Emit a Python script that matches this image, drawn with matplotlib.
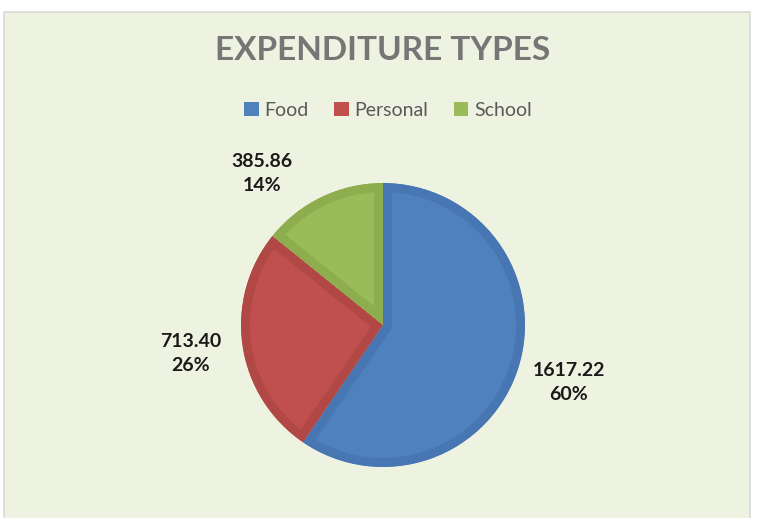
import numpy as np
import matplotlib
matplotlib.use('Agg')
import matplotlib.pyplot as plt
from matplotlib.patches import Patch, Rectangle, Wedge

categories = ['Food', 'Personal', 'School']
amounts = [1617.22, 713.40, 385.86]
face_colors = ['#4F81BD', '#C0504D', '#9BBB59']
edge_colors = ['#4776B3', '#B14845', '#8DAD4F']

W, H = 764, 518
bg = '#EEF2E0'
cx, cy, r = 383, H - 325, 142
border_px = 9
label_dist = 1.37
# Excel "best fit" moved the School label away from the legend
label_nudge = [(0, 0), (0, 0), (-37, -24)]

fig = plt.figure(figsize=(W / 100, H / 100), dpi=100, facecolor='white')
ax = fig.add_axes([0, 0, 1, 1])

total = sum(amounts)
labels = [f'{v:.2f}\n{v / total * 100:.0f}%' for v in amounts]

wedges, _ = ax.pie(amounts, colors=face_colors, startangle=90, counterclock=False,
                   center=(cx, cy), radius=r)

# Excel-style inner border: thick darker stroke clipped to a copy of the wedge
for w, ec, lab, (nx, ny) in zip(wedges, edge_colors, labels, label_nudge):
    clip = Wedge(w.center, w.r, w.theta1, w.theta2, transform=ax.transData)
    w.set_edgecolor(ec)
    w.set_linewidth(2 * border_px * 72 / 100)
    w.set_joinstyle('miter')
    w.set_clip_path(clip)
    w.set_clip_on(True)
    mid = np.deg2rad((w.theta1 + w.theta2) / 2)
    tx = cx + label_dist * r * np.cos(mid) + nx
    ty = cy + label_dist * r * np.sin(mid) + ny
    ax.text(tx, ty, lab, ha='center', va='center', multialignment='center', linespacing=1.45,
            fontsize=14, fontweight='bold', color='#1a1a1a', family=['Lato', 'DejaVu Sans'])

ax.set_xlim(0, W)
ax.set_ylim(0, H)
ax.set_aspect('equal')
ax.axis('off')

# chart area background with light border
ax.add_patch(Rectangle((4, -5), 746, 511, facecolor=bg, edgecolor='#D9D9D9', linewidth=1.2, zorder=-5))

fig.text(383 / W, 1 - 50 / H, 'EXPENDITURE TYPES', ha='center', va='center',
         fontsize=24, fontweight='bold', color='#767676', family=['Lato', 'DejaVu Sans'])

handles = [Patch(facecolor=c, edgecolor='none') for c in face_colors]
fig.legend(handles, categories, loc='center', bbox_to_anchor=(388 / W, 1 - 110 / H), ncol=3,
           frameon=False, handlelength=0.75, handleheight=0.75, handletextpad=0.3, columnspacing=1.3,
           prop=dict(family=['Lato', 'DejaVu Sans'], size=14), labelcolor='#595959')

fig.savefig('out.png', dpi=100, facecolor='white')
